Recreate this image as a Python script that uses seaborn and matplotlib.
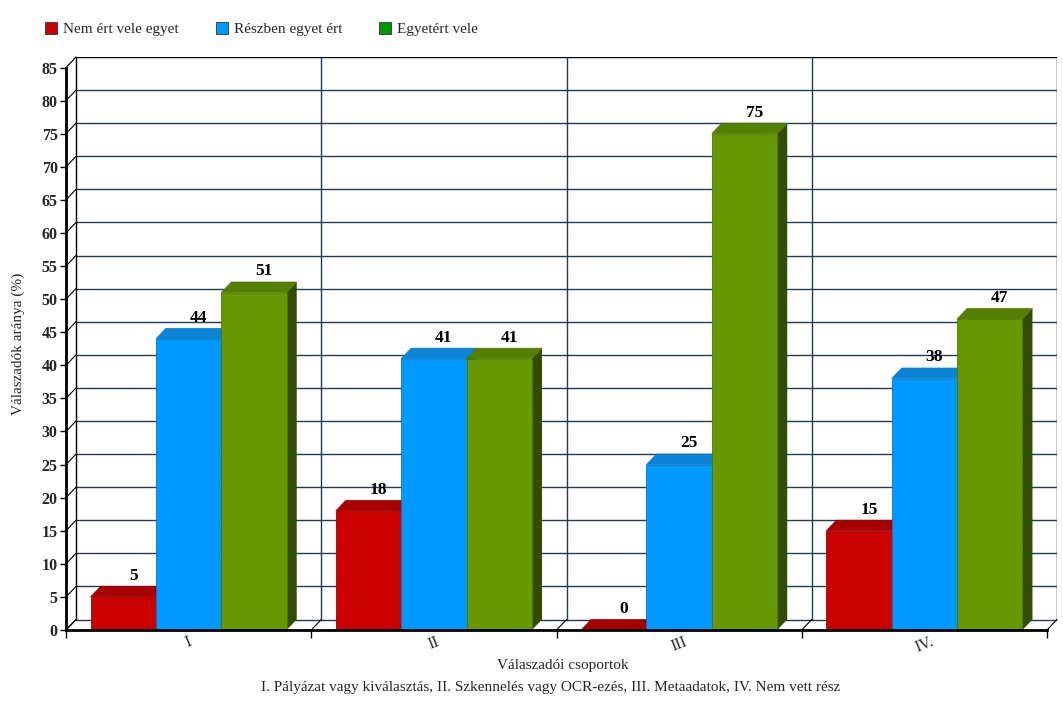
import matplotlib
matplotlib.use("Agg")
import matplotlib.pyplot as plt
import seaborn as sns
import pandas as pd
import numpy as np
from matplotlib.patches import Polygon
from matplotlib.lines import Line2D

# ---- data ----
groups = ["I", "II", "III", "IV."]
series = ["Nem ért vele egyet", "Részben egyet ért", "Egyetért vele"]
nem_ert = [5, 18, 0, 15]
reszben = [44, 41, 25, 38]
egyetert = [51, 41, 75, 47]
y_ticks = list(range(0, 90, 5))

front_colors = ["#CC0000", "#0099FF", "#669900"]
top_colors = ["#A80000", "#0A84D6", "#557F00"]
side_colors = ["#7A0000", "#0060A0", "#334D00"]
edge_colors = ["#A00000", "#0077CC", "#4F7700"]
legend_colors = ["#CC0000", "#0099FF", "#009900"]

df = pd.DataFrame({
    "group": groups * 3,
    "series": [series[0]] * 4 + [series[1]] * 4 + [series[2]] * 4,
    "value": nem_ert + reszben + egyetert,
})

sns.set_theme(style="white")
plt.rcParams["font.family"] = ["Liberation Serif", "DejaVu Serif"]

W, H = 1063, 714
fig = plt.figure(figsize=(W / 100, H / 100), dpi=100)
left_px, right_px, bottom_px, top_px = 66, 1057, 630, 57
ax = fig.add_axes([left_px / W, 1 - bottom_px / H, (right_px - left_px) / W, (bottom_px - top_px) / H])

ymax = 85
front_w_px = 981.0
dx = 4 * 10.0 / front_w_px
dy = ymax * 10.5 / (bottom_px - top_px - 10.5)

sns.barplot(data=df, x="group", y="value", hue="series", order=groups,
            hue_order=series, palette=front_colors, width=0.8, ax=ax,
            saturation=1, edgecolor="none", linewidth=0, legend=False)

ax.set_xlim(-0.5, 3.5 + dx)
ax.set_ylim(0, ymax + dy)

# back wall + grid
grid_c = "#1F3A5A"
x0, x1 = -0.5, 3.5
for v in y_ticks:
    ax.plot([x0 + dx, x1 + dx], [v + dy, v + dy], color=("black" if v == ymax else grid_c),
            lw=1.0, zorder=1)
    ax.plot([x0, x0 + dx], [v, v + dy], color="black", lw=0.8, zorder=1, clip_on=False)
for b in np.arange(x0, x1 + 0.01, 1.0):
    ax.plot([b + dx, b + dx], [dy, ymax + dy], color=(grid_c if x0 < b < x1 else "black"),
            lw=1.0, zorder=1)
    ax.plot([b, b + dx], [0, dy], color="black", lw=0.8, zorder=1, clip_on=False)

# 3D faces for bars
patches = sorted(ax.patches, key=lambda p: p.get_x())
for i, p in enumerate(patches):
    x = p.get_x(); w = p.get_width(); h = p.get_height()
    hexcol = matplotlib.colors.to_hex(p.get_facecolor()).upper()
    k = front_colors.index(hexcol) if hexcol in front_colors else 0
    z = 3 + i * 0.01
    p.set_zorder(z + 0.005)
    p.set_edgecolor(edge_colors[k])
    p.set_linewidth(0.6)
    top = Polygon([[x, h], [x + w, h], [x + w + dx, h + dy], [x + dx, h + dy]],
                  closed=True, facecolor=top_colors[k], edgecolor=edge_colors[k],
                  linewidth=0.5, zorder=z + 0.004)
    side = Polygon([[x + w, 0], [x + w + dx, dy], [x + w + dx, h + dy], [x + w, h]],
                   closed=True, facecolor=side_colors[k], edgecolor="none", zorder=z + 0.003)
    ax.add_patch(side)
    ax.add_patch(top)
    ax.text(x + w / 2 + dx, h + dy + 0.4, f"{h:.0f}", ha="center", va="bottom",
            fontsize=12.5, fontweight="bold", color="black", zorder=10)

# axes styling
for s in ["top", "right"]:
    ax.spines[s].set_visible(False)
ax.spines["left"].set_bounds(0, ymax)
ax.spines["bottom"].set_bounds(x0, x1)
for s in ["left", "bottom"]:
    ax.spines[s].set_linewidth(2)
    ax.spines[s].set_color("black")
    ax.spines[s].set_zorder(12)

ax.set_yticks(y_ticks)
ax.set_yticklabels([str(v) for v in y_ticks], fontsize=11.5, fontweight="bold")
ax.tick_params(axis="y", length=4, width=1, color="black", pad=2, left=True)
ax.set_xticks(np.arange(x0, x1 + 0.01, 1.0))
ax.set_xticklabels([""] * 5)
ax.set_xticks(range(len(groups)), minor=True)
ax.set_xticklabels(groups, minor=True, rotation=22, fontsize=11.5)
ax.tick_params(axis="x", which="major", length=6, width=1, color="black", bottom=True)
ax.tick_params(axis="x", which="minor", length=0, pad=3)
ax.set_xlabel("")
ax.set_ylabel("Válaszadók aránya (%)", fontsize=11, labelpad=12)
ax.grid(False)

fig.text(563 / W, 1 - 665 / H, "Válaszadói csoportok", ha="center", va="center", fontsize=11)
fig.text(551 / W, 1 - 687 / H,
         "I. Pályázat vagy kiválasztás, II. Szkennelés vagy OCR-ezés, III. Metaadatok, IV. Nem vett rész",
         ha="center", va="center", fontsize=11)

handles = [Line2D([0], [0], marker="s", linestyle="none", markersize=9,
                  markerfacecolor=c, markeredgecolor="#333333", markeredgewidth=0.6)
           for c in legend_colors]
fig.legend(handles, series, loc="upper left", bbox_to_anchor=(0.028, 0.988), ncol=3,
           frameon=False, fontsize=11, handletextpad=0.3, columnspacing=2.3,
           handlelength=1.0)

fig.savefig("out.png", dpi=100)
